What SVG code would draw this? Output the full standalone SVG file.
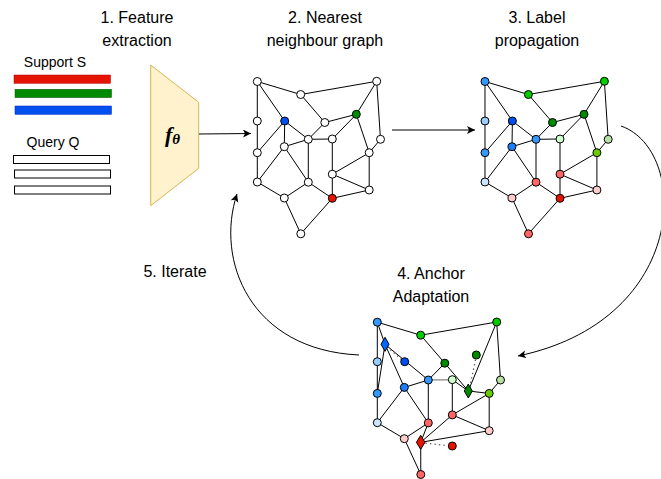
<svg xmlns="http://www.w3.org/2000/svg" width="661" height="479" viewBox="0 0 661 479">
<style>
.t{font-family:"Liberation Sans",Arial,sans-serif;font-size:16px;fill:#000;text-anchor:middle}
.s{font-family:"Liberation Sans",Arial,sans-serif;font-size:14px;fill:#000;text-anchor:middle}
.e{stroke:#000;stroke-width:1;fill:none}
.n{stroke:#000;stroke-width:1}
.d{stroke:#555;stroke-width:1.3;stroke-dasharray:1.3 3.2;fill:none}
.w{fill:#fff}
</style>
<defs>
<marker id="arr" markerWidth="10" markerHeight="10" refX="8" refY="4" orient="auto" markerUnits="userSpaceOnUse">
<path d="M0,0 L8,4 L0,8 L2,4 Z" fill="#000"/>
</marker>
</defs>
<rect width="661" height="479" fill="#fff"/>

<!-- titles -->
<g id="titles">
<text class="t" x="137" y="23">1. Feature</text>
<text class="t" x="137" y="46">extraction</text>
<text class="t" x="325" y="23">2. Nearest</text>
<text class="t" x="325" y="46">neighbour graph</text>
<text class="t" x="537" y="23">3. Label</text>
<text class="t" x="537" y="46">propagation</text>
<text class="t" x="431" y="279">4. Anchor</text>
<text class="t" x="431" y="302">Adaptation</text>
<text class="t" x="175" y="277">5. Iterate</text>
</g>

<!-- inputs -->
<g id="support">
<text class="s" x="55" y="67">Support S</text>
<rect x="14" y="75" width="96.5" height="8.3" fill="#E51400" stroke="#B20000" stroke-width="0.5"/>
<rect x="15" y="89.3" width="96.5" height="8.3" fill="#008A00" stroke="#005700" stroke-width="0.5"/>
<rect x="15" y="106" width="96.5" height="8.3" fill="#0050EF" stroke="#001DBC" stroke-width="0.5"/>
</g>
<g id="query">
<text class="s" x="53" y="147">Query Q</text>
<rect x="13.5" y="155.5" width="96" height="8" fill="#fff" stroke="#000"/>
<rect x="14.5" y="170" width="96" height="8" fill="#fff" stroke="#000"/>
<rect x="14.5" y="186" width="96" height="8" fill="#fff" stroke="#000"/>
</g>
<g id="encoder">
<polygon points="150.7,65 198.7,102.3 198.7,168.3 150.7,205.7" fill="#FFF2CC" stroke="#D6B656" stroke-width="1"/>
<text x="165" y="142" font-family="'Liberation Serif',serif" font-style="italic" font-weight="bold" font-size="22">f<tspan font-size="15" dy="2">θ</tspan></text>
</g>

<!-- connectors -->
<g id="connectors">
<path class="e" d="M199,134 L251,133.5" marker-end="url(#arr)"/>
<path class="e" d="M392,130 L475,130" marker-end="url(#arr)"/>
<path class="e" d="M621,126 C690,150 690,320 518,356" marker-end="url(#arr)"/>
<path class="e" d="M359,355 C250,350 215,260 237,194" marker-end="url(#arr)"/>

<!-- graph 2 edges -->
<g id="edges2">
<path class="e" d="M257.3,81.5L300.7,94.5 M257.3,81.5L257.3,121 M257.3,81.5L284.7,121 M300.7,94.5L376.7,81.3 M300.7,94.5L324.8,122.5 M376.7,81.3L356.3,114.3 M376.7,81.3L380.5,139.3 M257.3,121L257.3,152.7 M284.7,121L257.3,152.7 M284.7,121L284.3,146.7 M284.7,121L308.3,139.3 M324.8,122.5L356.3,114.3 M324.8,122.5L308.3,139.3 M356.3,114.3L332.3,139 M356.3,114.3L369.2,152.7 M308.3,139.3L332.3,139 M308.3,139.3L308.3,182.2 M332.3,139L332.3,174.2 M380.5,139.3L369.2,152.7 M257.3,152.7L257.3,182 M284.3,146.7L308.3,139.3 M284.3,146.7L257.3,182 M284.3,146.7L308.3,182.2 M369.2,152.7L332.3,174.2 M369.2,152.7L369.2,190 M332.3,174.2L369.2,190 M332.3,174.2L332.3,198.3 M257.3,182L284.3,198 M308.3,182.2L284.3,198 M308.3,182.2L332.3,198.3 M369.2,190L332.3,198.3 M284.3,198L300.8,233.8 M332.3,198.3L300.8,233.8"/>
</g>
<!-- graph 3 edges -->
<g id="edges3" transform="translate(227.7,0)">
<path class="e" d="M257.3,81.5L300.7,94.5 M257.3,81.5L257.3,121 M257.3,81.5L284.7,121 M300.7,94.5L376.7,81.3 M300.7,94.5L324.8,122.5 M376.7,81.3L356.3,114.3 M376.7,81.3L380.5,139.3 M257.3,121L257.3,152.7 M284.7,121L257.3,152.7 M284.7,121L284.3,146.7 M284.7,121L308.3,139.3 M324.8,122.5L356.3,114.3 M324.8,122.5L308.3,139.3 M356.3,114.3L332.3,139 M356.3,114.3L369.2,152.7 M308.3,139.3L332.3,139 M308.3,139.3L308.3,182.2 M332.3,139L332.3,174.2 M380.5,139.3L369.2,152.7 M257.3,152.7L257.3,182 M284.3,146.7L308.3,139.3 M284.3,146.7L257.3,182 M284.3,146.7L308.3,182.2 M369.2,152.7L332.3,174.2 M369.2,152.7L369.2,190 M332.3,174.2L369.2,190 M332.3,174.2L332.3,198.3 M257.3,182L284.3,198 M308.3,182.2L284.3,198 M308.3,182.2L332.3,198.3 M369.2,190L332.3,198.3 M284.3,198L300.8,233.8 M332.3,198.3L300.8,233.8"/>
</g>
<!-- graph 4 edges -->
<g id="edges4" transform="translate(120,240.7)">
<path class="e" d="M257.3,81.5L300.7,94.5 M257.3,81.5L257.3,121 M257.3,81.5L265,103.6 M300.7,94.5L376.7,81.3 M300.7,94.5L324.8,122.5 M376.7,81.3L348.3,150.3 M376.7,81.3L380.5,139.3 M257.3,121L257.3,152.7 M265,103.6L257.3,152.7 M265,103.6L284.3,146.7 M265,103.6L308.3,139.3 M324.8,122.5L348.3,150.3 M324.8,122.5L308.3,139.3 M348.3,150.3L332.3,139 M348.3,150.3L369.2,152.7 M308.3,139.3L308.3,182.2 M332.3,139L332.3,174.2 M380.5,139.3L369.2,152.7 M257.3,152.7L257.3,182 M284.3,146.7L308.3,139.3 M284.3,146.7L257.3,182 M284.3,146.7L308.3,182.2 M369.2,152.7L332.3,174.2 M369.2,152.7L369.2,190 M332.3,174.2L369.2,190 M332.3,174.2L300.7,201.6 M257.3,182L284.3,198 M308.3,182.2L284.3,198 M308.3,182.2L300.7,201.6 M369.2,190L300.7,201.6 M284.3,198L300.8,233.8 M300.7,201.6L300.8,233.8"/>
<path d="M308.3,139.3L332.3,139" stroke="#999" stroke-width="1.6" fill="none"/>
<path class="d" d="M267,106 L281,118.5"/>
<path class="d" d="M355.5,119 L350,145"/>
<path class="d" d="M305.5,202.5 L326,204.8"/>
</g>
</g>

<!-- graph 2 nodes -->
<g id="graph2">
<g id="g2A"><circle class="n w" cx="257.3" cy="81.5" r="4"/></g>
<g id="g2B"><circle class="n w" cx="300.7" cy="94.5" r="4"/></g>
<g id="g2C"><circle class="n w" cx="376.7" cy="81.3" r="4"/></g>
<g id="g2D"><circle class="n w" cx="257.3" cy="121" r="4"/></g>
<g id="g2E"><circle class="n" cx="284.7" cy="121" r="4" fill="#0050EF"/></g>
<g id="g2F"><circle class="n w" cx="324.8" cy="122.5" r="4"/></g>
<g id="g2G"><circle class="n" cx="356.3" cy="114.3" r="4" fill="#008A00"/></g>
<g id="g2H"><circle class="n w" cx="308.3" cy="139.3" r="4"/></g>
<g id="g2I"><circle class="n w" cx="332.3" cy="139" r="4"/></g>
<g id="g2J"><circle class="n w" cx="380.5" cy="139.3" r="4"/></g>
<g id="g2K"><circle class="n w" cx="257.3" cy="152.7" r="4"/></g>
<g id="g2L"><circle class="n w" cx="284.3" cy="146.7" r="4"/></g>
<g id="g2M"><circle class="n w" cx="369.2" cy="152.7" r="4"/></g>
<g id="g2N"><circle class="n w" cx="332.3" cy="174.2" r="4"/></g>
<g id="g2O"><circle class="n w" cx="257.3" cy="182" r="4"/></g>
<g id="g2P"><circle class="n w" cx="308.3" cy="182.2" r="4"/></g>
<g id="g2Q"><circle class="n w" cx="369.2" cy="190" r="4"/></g>
<g id="g2R"><circle class="n w" cx="284.3" cy="198" r="4"/></g>
<g id="g2S"><circle class="n" cx="332.3" cy="198.3" r="4" fill="#E51400"/></g>
<g id="g2T"><circle class="n w" cx="300.8" cy="233.8" r="4"/></g>
</g>

<!-- graph 3 nodes -->
<g id="graph3" transform="translate(227.7,0)">
<g id="g3A"><circle class="n" cx="257.3" cy="81.5" r="4" fill="#3399FF"/></g>
<g id="g3B"><circle class="n" cx="300.7" cy="94.5" r="4" fill="#00CC00"/></g>
<g id="g3C"><circle class="n" cx="376.7" cy="81.3" r="4" fill="#00CC00"/></g>
<g id="g3D"><circle class="n" cx="257.3" cy="121" r="4" fill="#99CCFF"/></g>
<g id="g3E"><circle class="n" cx="284.7" cy="121" r="4" fill="#0050EF"/></g>
<g id="g3F"><circle class="n" cx="324.8" cy="122.5" r="4" fill="#008A00"/></g>
<g id="g3G"><circle class="n" cx="356.3" cy="114.3" r="4" fill="#008A00"/></g>
<g id="g3H"><circle class="n" cx="308.3" cy="139.3" r="4" fill="#3399FF"/></g>
<g id="g3I"><circle class="n" cx="332.3" cy="139" r="4" fill="#CCFFCC"/></g>
<g id="g3J"><circle class="n" cx="380.5" cy="139.3" r="4" fill="#B9E0A5"/></g>
<g id="g3K"><circle class="n" cx="257.3" cy="152.7" r="4" fill="#3399FF"/></g>
<g id="g3L"><circle class="n" cx="284.3" cy="146.7" r="4" fill="#1A7FFF"/></g>
<g id="g3M"><circle class="n" cx="369.2" cy="152.7" r="4" fill="#66CC00"/></g>
<g id="g3N"><circle class="n" cx="332.3" cy="174.2" r="4" fill="#FF6666"/></g>
<g id="g3O"><circle class="n" cx="257.3" cy="182" r="4" fill="#CCE5FF"/></g>
<g id="g3P"><circle class="n" cx="308.3" cy="182.2" r="4" fill="#FF6666"/></g>
<g id="g3Q"><circle class="n" cx="369.2" cy="190" r="4" fill="#FFCCCC"/></g>
<g id="g3R"><circle class="n" cx="284.3" cy="198" r="4" fill="#FFCCCC"/></g>
<g id="g3S"><circle class="n" cx="332.3" cy="198.3" r="4" fill="#E51400"/></g>
<g id="g3T"><circle class="n" cx="300.8" cy="233.8" r="4" fill="#FF6666"/></g>
</g>

<!-- graph 4 nodes -->
<g id="graph4" transform="translate(120,240.7)">
<g id="g4A"><circle class="n" cx="257.3" cy="81.5" r="4" fill="#3399FF"/></g>
<g id="g4B"><circle class="n" cx="300.7" cy="94.5" r="4" fill="#00CC00"/></g>
<g id="g4C"><circle class="n" cx="376.7" cy="81.3" r="4" fill="#00CC00"/></g>
<g id="g4D"><circle class="n" cx="257.3" cy="121" r="4" fill="#99CCFF"/></g>
<g id="g4E"><circle class="n" cx="284.7" cy="121" r="4" fill="#0050EF"/></g>
<g id="g4Bd"><polygon class="n" points="265,96.6 269,103.6 265,110.6 261,103.6" fill="#0066FF"/></g>
<g id="g4F"><circle class="n" cx="324.8" cy="122.5" r="4" fill="#008A00"/></g>
<g id="g4G"><circle class="n" cx="356.3" cy="114.3" r="4" fill="#008A00"/></g>
<g id="g4Gd"><polygon class="n" points="348.3,143.3 352.3,150.3 348.3,157.3 344.3,150.3" fill="#008A00"/></g>
<g id="g4H"><circle class="n" cx="308.3" cy="139.3" r="4" fill="#3399FF"/></g>
<g id="g4I"><circle class="n" cx="332.3" cy="139" r="4" fill="#CCFFCC"/></g>
<g id="g4J"><circle class="n" cx="380.5" cy="139.3" r="4" fill="#B9E0A5"/></g>
<g id="g4K"><circle class="n" cx="257.3" cy="152.7" r="4" fill="#3399FF"/></g>
<g id="g4L"><circle class="n" cx="284.3" cy="146.7" r="4" fill="#1A7FFF"/></g>
<g id="g4M"><circle class="n" cx="369.2" cy="152.7" r="4" fill="#66CC00"/></g>
<g id="g4N"><circle class="n" cx="332.3" cy="174.2" r="4" fill="#FF6666"/></g>
<g id="g4O"><circle class="n" cx="257.3" cy="182" r="4" fill="#CCE5FF"/></g>
<g id="g4P"><circle class="n" cx="308.3" cy="182.2" r="4" fill="#FF6666"/></g>
<g id="g4Q"><circle class="n" cx="369.2" cy="190" r="4" fill="#FFCCCC"/></g>
<g id="g4R"><circle class="n" cx="284.3" cy="198" r="4" fill="#FFCCCC"/></g>
<g id="g4S"><circle class="n" cx="332.3" cy="205.3" r="4" fill="#E51400"/></g>
<g id="g4Rd"><polygon class="n" points="300.7,194.6 305,201.6 300.7,208.6 296.4,201.6" fill="#E51400"/></g>
<g id="g4T"><circle class="n" cx="300.8" cy="233.8" r="4" fill="#FF6666"/></g>
</g>
</svg>
